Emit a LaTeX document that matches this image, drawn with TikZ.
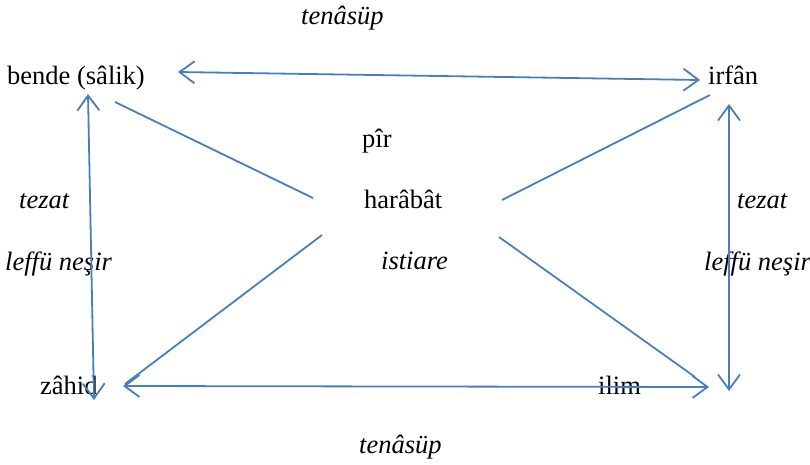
\documentclass[tikz,border=0pt]{standalone}
\usepackage{fontspec}
\setmainfont{Liberation Serif}
\usetikzlibrary{arrows.meta}
\definecolor{linkblue}{HTML}{4A7EBB}
\begin{document}
\begin{tikzpicture}[x=1pt,y=-1pt,
  lbl/.style={anchor=base west,inner sep=0pt,font=\fontsize{26.5}{30}\selectfont},
  ilbl/.style={lbl,font=\fontsize{26.5}{30}\selectfont\itshape},
  link/.style={draw=linkblue,line width=1.8pt},
  barb/.style={link,{Straight Barb[length=15pt,width=22pt]}-{Straight Barb[length=15pt,width=22pt]}}]
\useasboundingbox (0,0) rectangle (810,464);
% terms
\node[lbl] (bende) at (7,84) {bende (sâlik)};
\node[lbl] (irfan) at (708,84) {irfân};
\node[lbl] (pir) at (362,147) {pîr};
\node[lbl] (harabat) at (364,208) {harâbât};
\node[lbl] (zahid) at (40,394) {zâhid};
\node[lbl] (ilim) at (598,394) {ilim};
% relation names
\node[ilbl] (tenasupT) at (301,24) {tenâsüp};
\node[ilbl] (tenasupB) at (359,453) {tenâsüp};
\node[ilbl] (tezatL) at (19,208) {tezat};
\node[ilbl] (tezatR) at (737,208) {tezat};
\node[ilbl] (leffL) at (5,270) {leffü neşir};
\node[ilbl] (leffR) at (704,270) {leffü neşir};
\node[ilbl] (istiare) at (381,269) {istiare};
% connector end points
\coordinate (bendeE) at (178,72);
\coordinate (irfanW) at (700,80);
\coordinate (bendeS) at (88,94);
\coordinate (zahidN) at (94,400);
\coordinate (irfanS) at (729,104);
\coordinate (ilimE) at (729,391);
\coordinate (zahidE) at (123,386);
\coordinate (ilimW) at (709,387);
\coordinate (bendeSE) at (115,102);
\coordinate (harabatW) at (313,198);
\coordinate (irfanSW) at (710,95);
\coordinate (harabatE) at (502,200);
\coordinate (harabatSW) at (322,235);
\coordinate (zahidNE) at (125,384);
\coordinate (harabatSE) at (499,237);
\coordinate (ilimNW) at (695,377);
% double arrows
\draw[barb] (bendeE) -- (irfanW);
\draw[barb] (bendeS) -- (zahidN);
\draw[barb] (irfanS) -- (ilimE);
\draw[barb] (zahidE) -- (ilimW);
% plain links through the centre
\draw[link] (bendeSE) -- (harabatW);
\draw[link] (irfanSW) -- (harabatE);
\draw[link] (harabatSW) -- (zahidNE);
\draw[link] (harabatSE) -- (ilimNW);
\end{tikzpicture}
\end{document}
